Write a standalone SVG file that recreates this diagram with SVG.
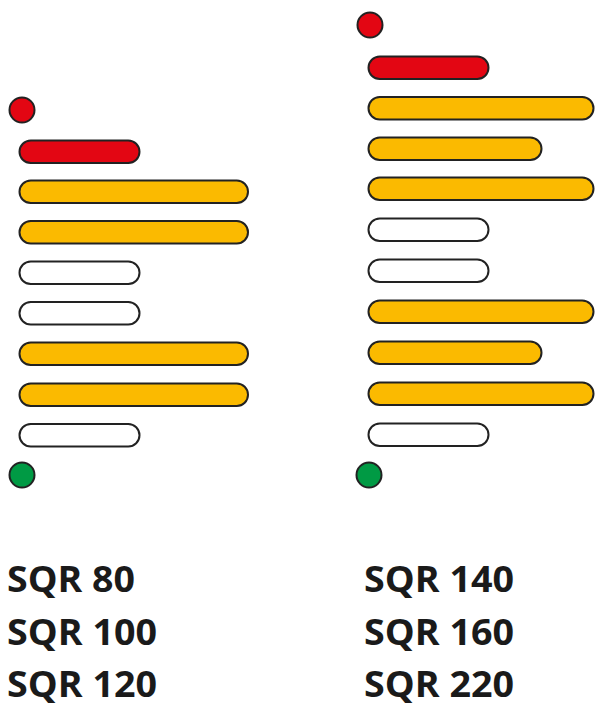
<svg xmlns="http://www.w3.org/2000/svg" width="595" height="708" viewBox="0 0 595 708">
<style>
.bar{stroke:#222;stroke-width:2}
.r{fill:#E30613}
.y{fill:#FBBA00}
.w{fill:#fff}
.g{fill:#009A44}
.t{font-family:"Open Sans","Liberation Sans",sans-serif;font-weight:bold;font-size:35px;fill:#1a1a1a}
</style>
<rect width="595" height="708" fill="#fff"/>
<g id="left">
<circle id="l-start" class="bar r" cx="22" cy="110" r="12.5"/>
<rect id="l1" class="bar r" x="19.5" y="140.5" width="120" height="22.5" rx="11.25"/>
<rect id="l2" class="bar y" x="19.5" y="180.5" width="228.5" height="22.5" rx="11.25"/>
<rect id="l3" class="bar y" x="19.5" y="221" width="228.5" height="22.5" rx="11.25"/>
<rect id="l4" class="bar w" x="19.5" y="261.5" width="120" height="22.5" rx="11.25"/>
<rect id="l5" class="bar w" x="19.5" y="302" width="120" height="22.5" rx="11.25"/>
<rect id="l6" class="bar y" x="19.5" y="342.5" width="228.5" height="22.5" rx="11.25"/>
<rect id="l7" class="bar y" x="19.5" y="383.5" width="228.5" height="22.5" rx="11.25"/>
<rect id="l8" class="bar w" x="19.5" y="424" width="120" height="22.5" rx="11.25"/>
<circle id="l-end" class="bar g" cx="22" cy="475" r="12.5"/>
</g>
<g id="right">
<circle id="r-start" class="bar r" cx="370" cy="25" r="12.5"/>
<rect id="r1" class="bar r" x="368.5" y="56.5" width="120" height="22.5" rx="11.25"/>
<rect id="r2" class="bar y" x="368.5" y="97" width="225" height="22.5" rx="11.25"/>
<rect id="r3" class="bar y" x="368.5" y="137.5" width="173" height="22.5" rx="11.25"/>
<rect id="r4" class="bar y" x="368.5" y="177.5" width="225" height="22.5" rx="11.25"/>
<rect id="r5" class="bar w" x="368.5" y="218.5" width="120" height="22.5" rx="11.25"/>
<rect id="r6" class="bar w" x="368.5" y="259.5" width="120" height="22.5" rx="11.25"/>
<rect id="r7" class="bar y" x="368.5" y="300.5" width="225" height="22.5" rx="11.25"/>
<rect id="r8" class="bar y" x="368.5" y="341.5" width="173" height="22.5" rx="11.25"/>
<rect id="r9" class="bar y" x="368.5" y="382.5" width="225" height="22.5" rx="11.25"/>
<rect id="r10" class="bar w" x="368.5" y="423.5" width="120" height="22.5" rx="11.25"/>
<circle id="r-end" class="bar g" cx="369" cy="475" r="12.5"/>
</g>
<g id="labels">
<text class="t" x="7" y="592" textLength="128" lengthAdjust="spacingAndGlyphs">SQR 80</text>
<text class="t" x="7" y="645" textLength="150" lengthAdjust="spacingAndGlyphs">SQR 100</text>
<text class="t" x="7" y="697" textLength="150" lengthAdjust="spacingAndGlyphs">SQR 120</text>
<text class="t" x="364" y="592" textLength="150" lengthAdjust="spacingAndGlyphs">SQR 140</text>
<text class="t" x="364" y="645" textLength="150" lengthAdjust="spacingAndGlyphs">SQR 160</text>
<text class="t" x="364" y="697" textLength="150" lengthAdjust="spacingAndGlyphs">SQR 220</text>
</g>
</svg>
